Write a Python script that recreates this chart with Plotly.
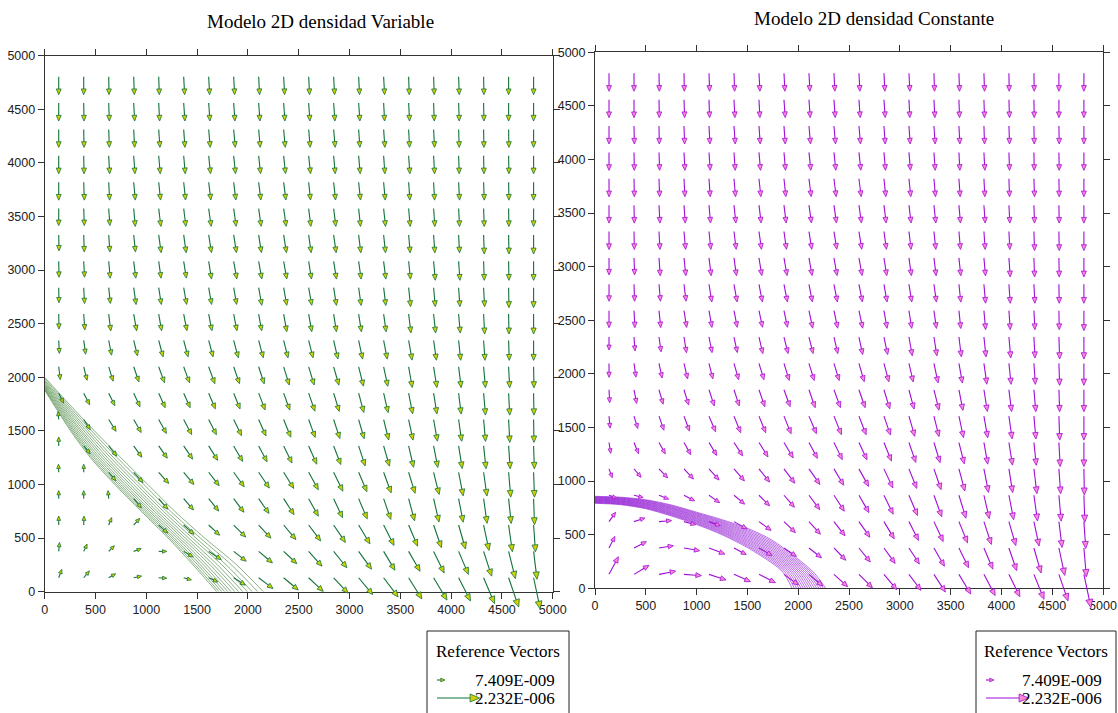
import math
import plotly.graph_objects as go

FIG_W, FIG_H = 1118, 713

# ---------------- data ----------------
TICKS = [0, 500, 1000, 1500, 2000, 2500, 3000, 3500, 4000, 4500, 5000]

# grid nodes (vector tails), x left->right, y top->bottom
X_NODES = [138, 384, 630, 876, 1122, 1368, 1614, 1860, 2106, 2352,
           2598, 2844, 3090, 3336, 3582, 3828, 4074, 4320, 4566, 4812]
Y_NODES = [4804, 4558, 4312, 4066, 3820, 3574, 3328, 3082, 2836, 2590,
           2344, 2098, 1852, 1606, 1360, 1114, 868, 622, 376, 130]

# reference magnitudes (m/s)
REF_MIN = 7.409e-9
REF_MAX = 2.232e-6
MAG_UNIT = 1e-8   # magnitudes below are in 1e-8 m/s

# ---- Variable density model: direction (deg, ccw from +x) and magnitude ----
LEFT_DIR = [
    [-90, -90, -89, -88, -88, -87, -87, -87, -87, -87, -87, -87, -87, -87, -88, -88, -88, -89, -90, -90],
    [-90, -89, -88, -87, -87, -86, -86, -86, -86, -86, -86, -86, -86, -87, -87, -88, -88, -89, -90, -90],
    [-90, -89, -88, -87, -86, -86, -85, -85, -85, -85, -85, -85, -86, -86, -87, -87, -88, -89, -89, -90],
    [-90, -89, -87, -86, -85, -85, -84, -84, -84, -84, -84, -85, -85, -86, -86, -87, -88, -89, -89, -90],
    [-90, -88, -87, -85, -84, -84, -83, -83, -83, -83, -84, -84, -84, -85, -86, -87, -87, -88, -89, -90],
    [-90, -88, -86, -85, -83, -83, -82, -82, -82, -82, -83, -83, -84, -84, -85, -86, -87, -88, -89, -90],
    [-89, -88, -86, -84, -82, -82, -81, -81, -81, -81, -82, -82, -83, -84, -85, -86, -87, -88, -89, -90],
    [-89, -87, -85, -83, -82, -81, -81, -80, -80, -80, -81, -81, -82, -83, -84, -85, -86, -88, -89, -90],
    [-89, -87, -84, -82, -81, -80, -80, -80, -80, -80, -80, -81, -82, -83, -84, -85, -86, -87, -89, -90],
    [-89, -86, -83, -80, -80, -79, -79, -79, -80, -80, -80, -81, -81, -82, -83, -84, -85, -87, -89, -90],
    [-87, -82, -79, -76, -75, -75, -75, -75, -75, -76, -76, -77, -78, -79, -80, -82, -84, -86, -88, -90],
    [-83, -76, -73, -71, -70, -70, -70, -71, -72, -73, -73, -74, -76, -78, -80, -81, -83, -85, -87, -89],
    [-64, -63, -64, -65, -66, -66, -67, -68, -69, -70, -71, -73, -75, -77, -79, -81, -83, -85, -87, -89],
    [95, -57, -58, -60, -61, -62, -63, -64, -66, -68, -70, -72, -74, -76, -78, -80, -82, -85, -87, -89],
    [90, -50, -52, -54, -55, -56, -58, -60, -62, -64, -66, -69, -72, -74, -77, -79, -81, -84, -86, -88],
    [92, 90, -50, -48, -48, -50, -52, -54, -56, -58, -61, -64, -67, -70, -73, -76, -79, -82, -85, -88],
    [90, 90, 95, -50, -49, -49, -51, -53, -55, -57, -61, -65, -67, -71, -75, -77, -79, -82, -84, -88],
    [90, 88, 68, 48, -42, -42, -43, -45, -47, -50, -53, -56, -59, -63, -67, -71, -74, -78, -82, -86],
    [85, 65, 45, 20, 0, -30, -33, -38, -40, -43, -48, -51, -54, -59, -60, -64, -67, -72, -76, -83],
    [70, 50, 30, 12, -3, -15, -25, -32, -37, -40, -43, -47, -50, -53, -58, -59, -63, -67, -71, -78],
]
LEFT_MAG = [
    [65, 65, 65, 65, 65, 65, 65, 65, 65, 65, 65, 65, 65, 65, 65, 65, 65, 65, 65, 65],
    [65, 65, 65, 65, 65, 65, 65, 65, 65, 65, 65, 65, 65, 65, 65, 65, 65, 65, 65, 65],
    [65, 65, 65, 65, 65, 65, 65, 65, 65, 65, 65, 65, 65, 65, 65, 65, 65, 65, 65, 65],
    [65, 65, 65, 65, 65, 65, 65, 65, 65, 65, 65, 65, 65, 65, 65, 65, 65, 65, 65, 65],
    [65, 65, 65, 65, 65, 65, 65, 65, 65, 65, 65, 65, 65, 65, 65, 65, 65, 65, 65, 65],
    [59, 59, 59, 65, 65, 65, 65, 65, 65, 65, 65, 65, 65, 65, 65, 65, 65, 65, 65, 65],
    [52, 59, 59, 59, 65, 65, 65, 65, 65, 65, 65, 65, 65, 65, 65, 65, 65, 72, 72, 72],
    [52, 52, 59, 59, 59, 59, 65, 65, 65, 65, 65, 65, 65, 65, 65, 72, 72, 72, 72, 72],
    [46, 52, 52, 59, 59, 59, 59, 59, 65, 65, 65, 65, 65, 65, 72, 72, 72, 72, 78, 78],
    [46, 52, 59, 59, 59, 59, 59, 59, 59, 65, 65, 65, 65, 65, 72, 72, 72, 78, 78, 78],
    [33, 39, 46, 52, 59, 59, 59, 65, 65, 65, 65, 72, 72, 72, 78, 78, 78, 78, 78, 78],
    [33, 39, 46, 52, 59, 59, 65, 65, 65, 72, 72, 72, 78, 78, 85, 85, 85, 85, 85, 85],
    [20, 33, 39, 46, 52, 52, 59, 59, 65, 65, 72, 72, 78, 78, 85, 85, 85, 91, 91, 91],
    [1, 27, 39, 46, 52, 59, 59, 65, 65, 72, 72, 78, 78, 85, 85, 91, 91, 91, 97, 97],
    [7, 14, 33, 39, 46, 52, 59, 65, 65, 72, 78, 78, 85, 85, 91, 91, 97, 97, 97, 97],
    [1, 1, 20, 39, 46, 52, 59, 65, 72, 72, 78, 85, 85, 91, 91, 97, 104, 104, 110, 110],
    [1, 1, 1, 27, 39, 46, 52, 59, 65, 72, 78, 85, 91, 91, 97, 104, 104, 110, 110, 117],
    [7, 7, 1, 7, 27, 39, 46, 59, 65, 72, 78, 85, 91, 97, 97, 104, 110, 117, 123, 123],
    [7, 1, 1, 1, 1, 20, 46, 52, 65, 65, 78, 85, 91, 91, 97, 104, 110, 117, 130, 130],
    [7, 7, 1, 1, 1, 1, 14, 39, 65, 72, 78, 85, 91, 104, 110, 117, 117, 130, 149, 155],
]

# ---- Constant density model ----
RIGHT_DIR = [
    [-90, -90, -89, -89, -88, -88, -87, -87, -87, -87, -87, -87, -87, -88, -88, -88, -89, -89, -90, -90],
    [-90, -90, -89, -88, -88, -87, -87, -86, -86, -86, -86, -86, -87, -87, -88, -88, -88, -89, -90, -90],
    [-90, -89, -89, -88, -87, -86, -86, -86, -85, -85, -85, -86, -86, -86, -87, -88, -88, -89, -89, -90],
    [-90, -89, -88, -87, -86, -86, -85, -85, -84, -84, -84, -85, -85, -86, -87, -87, -88, -89, -89, -90],
    [-90, -89, -88, -87, -86, -85, -84, -84, -83, -83, -83, -84, -84, -85, -86, -87, -88, -88, -89, -90],
    [-90, -89, -87, -86, -85, -84, -83, -83, -82, -82, -82, -83, -83, -84, -85, -86, -87, -88, -89, -90],
    [-90, -89, -87, -85, -84, -83, -82, -82, -81, -81, -81, -82, -83, -84, -85, -86, -87, -88, -89, -90],
    [-90, -88, -86, -84, -83, -82, -81, -80, -80, -80, -80, -81, -82, -83, -84, -85, -86, -88, -89, -90],
    [-90, -88, -85, -83, -81, -80, -79, -79, -79, -79, -79, -80, -81, -82, -84, -85, -86, -87, -89, -90],
    [-90, -87, -84, -81, -80, -79, -78, -78, -78, -78, -78, -80, -81, -82, -84, -85, -86, -87, -89, -90],
    [-90, -86, -82, -81, -79, -78, -77, -76, -76, -77, -78, -78, -80, -81, -83, -84, -85, -87, -88, -90],
    [-90, -82, -78, -77, -76, -74, -73, -73, -73, -73, -74, -75, -77, -78, -80, -82, -84, -86, -88, -90],
    [-87, -79, -74, -73, -72, -72, -71, -70, -71, -70, -71, -73, -75, -76, -79, -81, -83, -85, -88, -90],
    [-85, -73, -71, -70, -67, -68, -68, -68, -67, -68, -69, -71, -74, -76, -78, -80, -82, -85, -88, -90],
    [-81, -68, -61, -61, -59, -57, -58, -59, -62, -64, -65, -68, -71, -73, -76, -80, -81, -84, -87, -90],
    [-70, -50, -46, -47, -48, -49, -51, -53, -55, -59, -61, -65, -68, -71, -75, -79, -81, -83, -86, -89],
    [-20, -14, -22, -28, -35, -40, -45, -49, -53, -57, -60, -64, -67, -70, -73, -77, -79, -82, -85, -88],
    [55, 18, 5, -15, -20, -29, -36, -44, -48, -52, -55, -59, -63, -65, -68, -72, -74, -78, -83, -86],
    [63, 27, 9, -10, -21, -28, -30, -34, -38, -46, -51, -54, -57, -60, -64, -67, -71, -74, -78, -85],
    [62, 31, 11, -4, -18, -24, -27, -36, -40, -42, -45, -50, -53, -57, -59, -62, -64, -68, -71, -78],
]
RIGHT_MAG = [
    [65, 65, 65, 65, 65, 65, 65, 65, 65, 65, 65, 65, 65, 65, 65, 65, 65, 65, 65, 65],
    [65, 65, 65, 65, 65, 65, 65, 65, 65, 65, 65, 65, 65, 65, 65, 65, 65, 65, 65, 65],
    [65, 65, 65, 65, 65, 65, 65, 65, 65, 65, 65, 65, 65, 65, 65, 65, 65, 65, 65, 65],
    [65, 65, 65, 65, 65, 65, 65, 65, 65, 65, 65, 65, 65, 65, 65, 65, 65, 65, 65, 65],
    [65, 65, 65, 65, 65, 65, 65, 65, 65, 65, 65, 65, 65, 65, 65, 65, 65, 65, 65, 65],
    [65, 65, 65, 65, 65, 65, 65, 65, 65, 65, 65, 65, 65, 65, 65, 65, 65, 65, 65, 65],
    [65, 65, 65, 65, 65, 65, 65, 65, 65, 65, 65, 65, 65, 65, 65, 65, 65, 72, 72, 72],
    [59, 59, 65, 65, 65, 65, 65, 65, 65, 65, 65, 65, 65, 65, 65, 65, 72, 72, 72, 72],
    [59, 59, 59, 59, 65, 65, 65, 65, 65, 65, 65, 65, 65, 65, 65, 72, 72, 72, 72, 72],
    [59, 59, 59, 59, 59, 59, 59, 59, 65, 65, 65, 65, 65, 65, 65, 72, 72, 72, 72, 78],
    [33, 39, 46, 52, 52, 52, 59, 59, 59, 59, 65, 65, 72, 72, 78, 78, 85, 85, 91, 91],
    [39, 39, 46, 52, 52, 59, 59, 65, 65, 65, 72, 72, 72, 78, 78, 85, 85, 85, 91, 91],
    [33, 39, 46, 52, 59, 59, 65, 65, 72, 72, 72, 78, 78, 85, 85, 91, 91, 91, 91, 91],
    [27, 33, 46, 52, 59, 65, 65, 72, 72, 78, 78, 78, 85, 85, 91, 91, 97, 97, 104, 104],
    [20, 27, 33, 39, 46, 52, 59, 65, 65, 72, 72, 78, 85, 85, 91, 91, 97, 97, 104, 104],
    [10, 20, 30, 39, 46, 52, 59, 65, 72, 72, 78, 85, 85, 91, 97, 104, 104, 110, 110, 117],
    [1, 10, 17, 27, 33, 39, 46, 52, 65, 72, 78, 85, 91, 97, 104, 104, 110, 117, 117, 123],
    [23, 23, 30, 27, 27, 46, 46, 52, 59, 65, 72, 78, 85, 91, 97, 104, 110, 110, 117, 123],
    [33, 39, 43, 52, 59, 39, 46, 46, 52, 59, 65, 72, 72, 85, 91, 97, 104, 117, 130, 136],
    [78, 62, 59, 62, 65, 65, 68, 65, 65, 68, 72, 78, 78, 85, 97, 104, 110, 123, 130, 168],
]

# ---- concentration isolines, variable density (x of each line at given depth) ----
LEFT_ISO_Y0 = [1880, 1886, 1893, 1900, 1909, 1917, 1927, 1936, 1947, 1959, 1971, 1986, 2000]
LEFT_ISO_LEVELS = [1750, 1500, 1250, 1000, 750, 500, 250, 0]
LEFT_ISO_X = [
    [85, 93, 102, 111, 122, 133, 145, 158, 172, 187, 203, 221, 240],
    [255, 267, 281, 295, 311, 328, 347, 365, 387, 410, 434, 462, 490],
    [450, 465, 483, 501, 522, 543, 567, 591, 618, 648, 678, 714, 750],
    [690, 706, 726, 745, 768, 791, 817, 843, 872, 905, 937, 976, 1015],
    [950, 966, 986, 1006, 1029, 1052, 1079, 1105, 1135, 1168, 1201, 1240, 1280],
    [1215, 1233, 1255, 1276, 1301, 1327, 1355, 1384, 1417, 1453, 1489, 1532, 1575],
    [1460, 1481, 1507, 1533, 1563, 1593, 1628, 1662, 1701, 1744, 1787, 1838, 1890],
    [1693, 1716, 1743, 1771, 1803, 1835, 1872, 1909, 1950, 1996, 2042, 2097, 2152],
]

# ---- concentration isolines, constant density (y of each line at given x) ----
RIGHT_ISO_LEVELS = [0, 250, 500, 750, 1000, 1250, 1500, 1750]
RIGHT_ISO_Y = [
    [793, 797, 802, 806, 810, 815, 819, 823, 828, 832, 836, 841, 845, 849, 854, 858],
    [780, 785, 789, 794, 799, 803, 808, 813, 817, 822, 827, 831, 836, 841, 845, 850],
    [742, 748, 753, 759, 764, 770, 776, 781, 787, 792, 798, 804, 809, 815, 820, 826],
    [675, 682, 689, 696, 702, 709, 716, 723, 730, 737, 744, 750, 757, 764, 771, 778],
    [595, 603, 610, 618, 626, 633, 641, 649, 656, 664, 672, 679, 687, 695, 702, 710],
    [500, 509, 519, 528, 537, 547, 556, 565, 575, 584, 593, 603, 612, 621, 631, 640],
    [380, 392, 404, 416, 428, 440, 452, 464, 476, 488, 500, 512, 524, 536, 548, 560],
    [230, 244, 259, 273, 287, 302, 316, 330, 345, 359, 373, 388, 402, 416, 431, 445],
]
RIGHT_ISO_X150 = [1850, 1870, 1890, 1910, 1930, 1950, 1970, 1990, 2010, 2030, 2050, 2070, 2090, 2110, 2130, 2150]
RIGHT_ISO_X0 = [1940, 1962, 1984, 2006, 2028, 2050, 2072, 2094, 2116, 2138, 2160, 2182, 2204, 2226, 2248, 2270]

# ---------------- layout / style ----------------
AREAS = [(44.7, 552.7, 55.7, 591.7), (595.0, 1103.0, 52.3, 588.3)]   # px: x0, x1, ytop, ybottom
L_MIN_PX, L_MAX_PX = 8.0, 42.5
SERIF = "Liberation Serif, Times New Roman, serif"
SANS = "Liberation Sans, Arial, sans-serif"

STYLE = [
    dict(shaft="#127238", head="#d2d000", iso="#6a9c62", iso_w=0.8),
    dict(shaft="#a10cd8", head="#fa88d6", iso="#8d10d2", iso_w=0.6),
]


def arrow_length(mag):
    t = (mag * MAG_UNIT - REF_MIN) / (REF_MAX - REF_MIN)
    return L_MIN_PX + max(t, 0.0) * (L_MAX_PX - L_MIN_PX)


def build_arrows(tails, angles, lengths, sx, sy):
    shx, shy, hx, hy = [], [], [], []
    for (x, y), a, L in zip(tails, angles, lengths):
        c, s = math.cos(math.radians(a)), math.sin(math.radians(a))
        h = 3.0 + 0.15 * L
        w = 0.43 * h
        tipx, tipy = x + L * c * sx, y + L * s * sy
        bx, by = x + (L - h) * c * sx, y + (L - h) * s * sy
        p1 = (bx - w * s * sx, by + w * c * sy)
        p2 = (bx + w * s * sx, by - w * c * sy)
        shx += [x, bx, None]
        shy += [y, by, None]
        hx += [tipx, p1[0], p2[0], tipx, None]
        hy += [tipy, p1[1], p2[1], tipy, None]
    return shx, shy, hx, hy


fig = go.Figure()
layout = dict(width=FIG_W, height=FIG_H, margin=dict(l=0, r=0, t=0, b=0, autoexpand=False),
              paper_bgcolor="white", plot_bgcolor="rgba(0,0,0,0)",
              showlegend=False, shapes=[], annotations=[])

axis_common = dict(range=[0, 5000], tickvals=TICKS, ticks="outside", ticklen=6,
                   tickwidth=1, tickcolor="#333", showline=True, linecolor="#333",
                   linewidth=1, mirror="ticks", showgrid=False, zeroline=False,
                   tickfont=dict(family=SANS, size=12.5, color="#222"), fixedrange=True)

for p, (x0, x1, yt, yb) in enumerate(AREAS):
    xa = "x" if p == 0 else "x2"
    ya = "y" if p == 0 else "y2"
    xo, yo = "x%d" % (p + 3), "y%d" % (p + 3)
    kx = (x1 - x0) / 5000.0
    ky = (yb - yt) / 5000.0
    layout["xaxis" if p == 0 else "xaxis2"] = dict(axis_common, domain=[x0 / FIG_W, x1 / FIG_W], anchor=ya)
    layout["yaxis" if p == 0 else "yaxis2"] = dict(axis_common, domain=[(FIG_H - yb) / FIG_H, (FIG_H - yt) / FIG_H], anchor=xa)
    layout["xaxis%d" % (p + 3)] = dict(domain=[0, 1], range=[-x0 / kx, (FIG_W - x0) / kx], visible=False,
                                       anchor=yo, fixedrange=True)
    layout["yaxis%d" % (p + 3)] = dict(domain=[0, 1], range=[(yb - FIG_H) / ky, yb / ky], visible=False,
                                       anchor=xo, fixedrange=True)

    st = STYLE[p]
    # isolines
    if p == 0:
        for i in range(len(LEFT_ISO_Y0)):
            xs = [0] + [row[i] for row in LEFT_ISO_X]
            ys = [LEFT_ISO_Y0[i]] + LEFT_ISO_LEVELS
            fig.add_trace(go.Scatter(x=xs, y=ys, mode="lines", xaxis=xa, yaxis=ya,
                                     line=dict(color=st["iso"], width=st["iso_w"], shape="spline", smoothing=0.8),
                                     hoverinfo="skip"))
    else:
        for i in range(len(RIGHT_ISO_X0)):
            xs = RIGHT_ISO_LEVELS + [RIGHT_ISO_X150[i], RIGHT_ISO_X0[i]]
            ys = [row[i] for row in RIGHT_ISO_Y] + [150, 0]
            fig.add_trace(go.Scatter(x=xs, y=ys, mode="lines", xaxis=xa, yaxis=ya,
                                     line=dict(color=st["iso"], width=st["iso_w"], shape="spline", smoothing=0.8),
                                     hoverinfo="skip"))

    dirs = LEFT_DIR if p == 0 else RIGHT_DIR
    mags = LEFT_MAG if p == 0 else RIGHT_MAG
    tails, angs, lens = [], [], []
    for r, yv in enumerate(Y_NODES):
        for c, xv in enumerate(X_NODES):
            tails.append((xv, yv))
            angs.append(dirs[r][c])
            lens.append(arrow_length(mags[r][c]))
    shx, shy, hx, hy = build_arrows(tails, angs, lens, 1.0 / kx, 1.0 / ky)
    fig.add_trace(go.Scatter(x=shx, y=shy, mode="lines", xaxis=xo, yaxis=yo,
                             line=dict(color=st["shaft"], width=1.1), hoverinfo="skip"))
    fig.add_trace(go.Scatter(x=hx, y=hy, mode="lines", fill="toself", fillcolor=st["head"],
                             xaxis=xo, yaxis=yo, line=dict(color=st["shaft"], width=0.8),
                             hoverinfo="skip"))

# pixel overlay for the reference-vector legends
layout["xaxis5"] = dict(domain=[0, 1], range=[0, FIG_W], visible=False, anchor="y5", fixedrange=True)
layout["yaxis5"] = dict(domain=[0, 1], range=[FIG_H, 0], visible=False, anchor="x5", fixedrange=True)

TITLES = ["Modelo 2D densidad Variable", "Modelo 2D densidad Constante"]
TITLE_POS = [(320, 22), (874, 19)]
LEGEND_BOX = [(427, 569), (976, 1116)]

for p in range(2):
    st = STYLE[p]
    tx, ty = TITLE_POS[p]
    layout["annotations"].append(dict(x=tx / FIG_W, y=1 - ty / FIG_H, xref="paper", yref="paper",
                                      text=TITLES[p], showarrow=False, xanchor="center", yanchor="middle",
                                      font=dict(family=SERIF, size=19, color="black")))
    bx0, bx1 = LEGEND_BOX[p]
    layout["shapes"].append(dict(type="rect", xref="x5", yref="y5", x0=bx0, x1=bx1, y0=631, y1=730,
                                 line=dict(color="#222", width=1), fillcolor="white", layer="below"))
    layout["annotations"].append(dict(x=(bx0 + bx1) / 2, y=651, xref="x5", yref="y5", text="Reference Vectors",
                                      showarrow=False, xanchor="center", yanchor="middle",
                                      font=dict(family=SERIF, size=17, color="black")))
    for val, yy in ((REF_MIN, 680), (REF_MAX, 698)):
        lab = ("%.3E" % val).replace("E-0", "E-00")
        layout["annotations"].append(dict(x=bx1 - 12, y=yy, xref="x5", yref="y5", text=lab,
                                          showarrow=False, xanchor="right", yanchor="middle",
                                          font=dict(family=SERIF, size=17, color="black")))
    lx = bx0 + 10
    leg_tails = [(lx, 680), (lx, 698)]
    leg_lens = [arrow_length(REF_MIN / MAG_UNIT), arrow_length(REF_MAX / MAG_UNIT)]
    shx, shy, hx, hy = build_arrows(leg_tails, [0, 0], leg_lens, 1.0, -1.0)
    fig.add_trace(go.Scatter(x=shx, y=shy, mode="lines", xaxis="x5", yaxis="y5",
                             line=dict(color=st["shaft"], width=1.1), hoverinfo="skip"))
    fig.add_trace(go.Scatter(x=hx, y=hy, mode="lines", fill="toself", fillcolor=st["head"],
                             xaxis="x5", yaxis="y5", line=dict(color=st["shaft"], width=0.8),
                             hoverinfo="skip"))

fig.update_layout(**layout)
fig.write_html("out.html", config={"displayModeBar": False, "staticPlot": True},
               post_script="document.documentElement.style.margin='0';"
                           "document.body.style.margin='0';document.body.style.padding='0';"
                           "document.body.style.overflow='hidden';")
